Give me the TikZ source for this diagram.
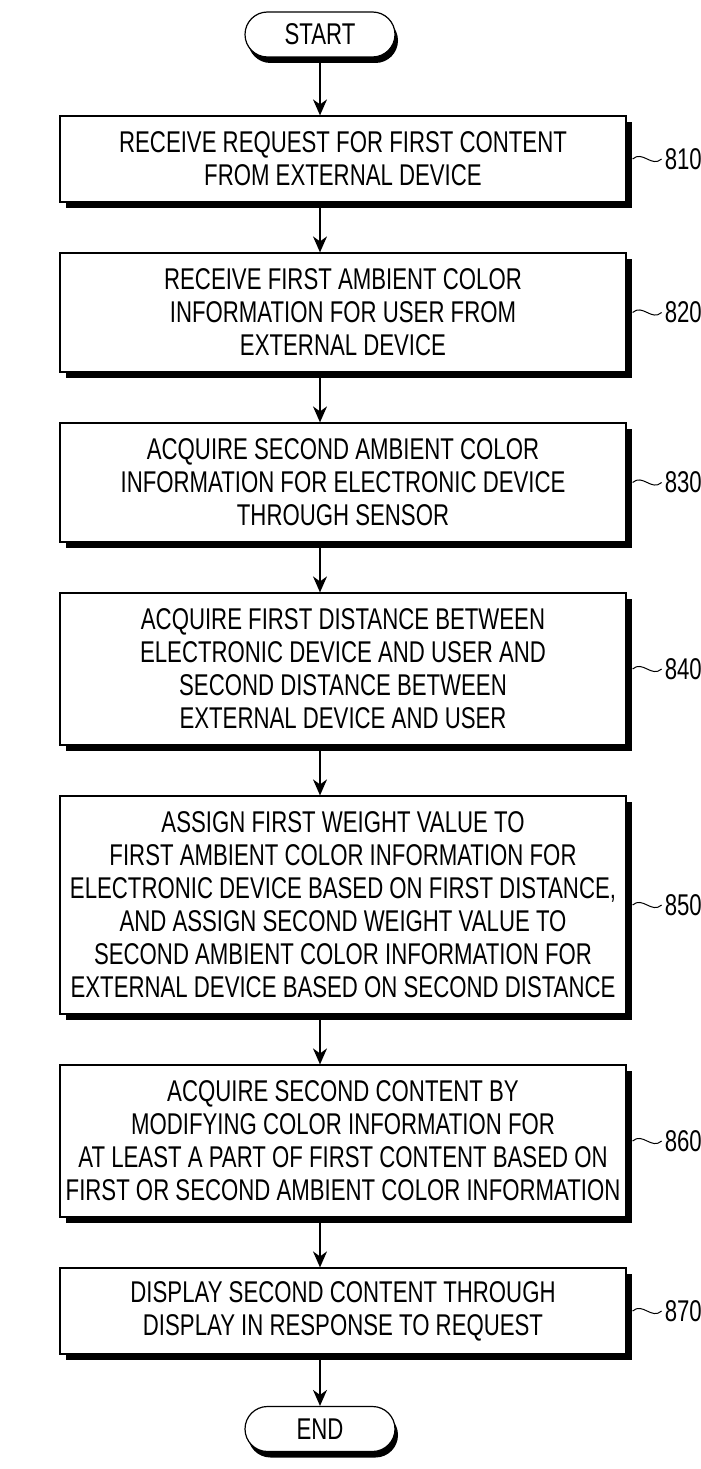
\documentclass[tikz,border=0pt]{standalone}
\usepackage{fontspec}
\setmainfont{Liberation Sans}[FakeStretch=0.74]
\usetikzlibrary{shadows,shapes.misc,arrows.meta}
\begin{document}
\begin{tikzpicture}[x=1pt,y=-1pt,
  txt/.style={font=\fontsize{30}{33}\selectfont},
  box/.style={txt,draw=black,line width=1.2pt,fill=white,minimum width=566pt,align=center,inner sep=0pt,
    drop shadow={shadow xshift=6pt,shadow yshift=-6pt,fill=black,opacity=1}},
  term/.style={txt,rounded rectangle,draw=black,line width=1.2pt,fill=white,minimum width=150pt,minimum height=45pt,inner sep=0pt,
    drop shadow={shadow xshift=3pt,shadow yshift=-6pt,fill=black,opacity=1}},
  arr/.style={line width=1.4pt,-{Stealth[length=16pt,width=14pt,inset=5pt]}},
  lab/.style={txt,anchor=west,inner sep=0pt},
  til/.style={line width=1pt}
]
\useasboundingbox (0,0) rectangle (701,1469);
\node[term] (start) at (320,34.5) {START};
\node[box,minimum height=86pt] (b810) at (343,159) {RECEIVE REQUEST FOR FIRST CONTENT\\FROM EXTERNAL DEVICE};
\node[box,minimum height=119pt] (b820) at (343,312.5) {RECEIVE FIRST AMBIENT COLOR\\INFORMATION FOR USER FROM\\EXTERNAL DEVICE};
\node[box,minimum height=119pt] (b830) at (343,482.5) {ACQUIRE SECOND AMBIENT COLOR\\INFORMATION FOR ELECTRONIC DEVICE\\THROUGH SENSOR};
\node[box,minimum height=152pt] (b840) at (343,669) {ACQUIRE FIRST DISTANCE BETWEEN\\ELECTRONIC DEVICE AND USER AND\\SECOND DISTANCE BETWEEN\\EXTERNAL DEVICE AND USER};
\node[box,minimum height=218pt] (b850) at (343,905) {ASSIGN FIRST WEIGHT VALUE TO\\FIRST AMBIENT COLOR INFORMATION FOR\\ELECTRONIC DEVICE BASED ON FIRST DISTANCE,\\AND ASSIGN SECOND WEIGHT VALUE TO\\SECOND AMBIENT COLOR INFORMATION FOR\\EXTERNAL DEVICE BASED ON SECOND DISTANCE};
\node[box,minimum height=152pt] (b860) at (343,1141) {ACQUIRE SECOND CONTENT BY\\MODIFYING COLOR INFORMATION FOR\\AT LEAST A PART OF FIRST CONTENT BASED ON\\FIRST OR SECOND AMBIENT COLOR INFORMATION};
\node[box,minimum height=86pt] (b870) at (343,1311) {DISPLAY SECOND CONTENT THROUGH\\DISPLAY IN RESPONSE TO REQUEST};
\node[term] (end) at (320,1429) {END};
% arrows
\draw[arr] (start.south) -- (start.south |- b810.north);
\draw[arr] (b810.south -| start) -- (b820.north -| start);
\draw[arr] (b820.south -| start) -- (b830.north -| start);
\draw[arr] (b830.south -| start) -- (b840.north -| start);
\draw[arr] (b840.south -| start) -- (b850.north -| start);
\draw[arr] (b850.south -| start) -- (b860.north -| start);
\draw[arr] (b860.south -| start) -- (b870.north -| start);
\draw[arr] (b870.south -| start) -- (end.north);
% labels
\foreach \n in {810,820,830,840,850,860,870}{
  \node[lab] (l\n) at ([xshift=38pt]b\n.east) {\n};
  \draw[til] ([xshift=6pt]b\n.east) .. controls +(10,-9) and +(-10,9) .. ([xshift=-3pt]l\n.west);
}
\end{tikzpicture}
\end{document}
